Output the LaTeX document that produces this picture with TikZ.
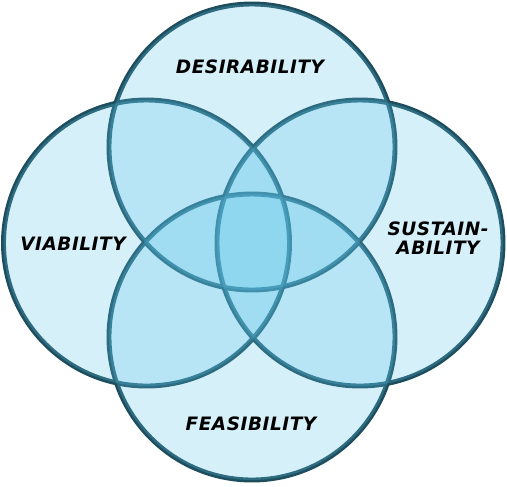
\documentclass[tikz,border=0pt]{standalone}
\usepackage{fontspec}
\newfontfamily\ringfont[LetterSpace=3]{DejaVu Sans}
\definecolor{ringline}{RGB}{30,78,94}
\definecolor{ringfill}{RGB}{92,196,232}
\begin{document}
\begin{tikzpicture}[
    ring/.style={line width=2.8pt, draw=ringline},
    tint/.style={fill=ringfill, fill opacity=0.25},
    ringtext/.style={font=\ringfont\bfseries\itshape\fontsize{10.5}{10.5}\selectfont, align=center, text=black}
  ]
  \useasboundingbox (-5.04,-4.86) rectangle (5.10,4.86);

  % 円の輪郭
  \foreach \cx/\cy in {0/1.92, -2.11/0, 2.16/0, 0/-1.88}
    \draw[ring] (\cx,\cy) circle (2.86);

  % 半透明の塗り（重なりほど濃くなる）
  \foreach \cx/\cy in {0/1.92, -2.11/0, 2.16/0, 0/-1.88}
    \fill[tint] (\cx,\cy) circle (2.86);

  % ラベル
  \node[ringtext] (desir) at (-0.04,3.52) {DESIRABILITY};
  \node[ringtext] (viab) at (-3.58,-0.02) {VIABILITY};
  \node[ringtext] (sust) at (3.72,0.1) {SUSTAIN-\\ABILITY};
  \node[ringtext] (feas) at (-0.02,-3.62) {FEASIBILITY};

\end{tikzpicture}
\end{document}
